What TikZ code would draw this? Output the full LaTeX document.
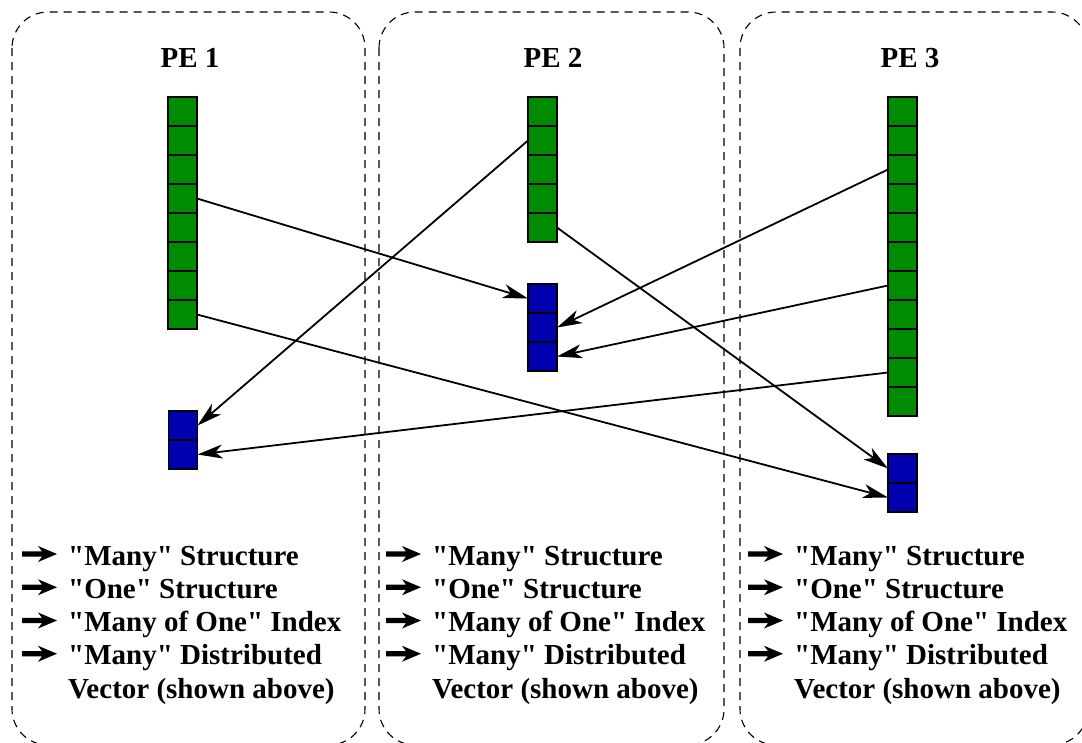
\documentclass[tikz,border=0pt]{standalone}
\usepackage{fontspec}
% a family without the TeX mapping, so that " stays a straight quote
\newfontfamily\labelfont{Liberation Serif}
\usetikzlibrary{arrows.meta}
\definecolor{cellgreen}{RGB}{0,140,0}
\definecolor{cellblue}{RGB}{0,0,175}
\tikzset{
  pebox/.style={draw=black, line width=1.1pt, dash pattern=on 8pt off 6pt, rounded corners=36pt},
  cell/.style={draw=black, line width=1.8pt, minimum width=29pt, minimum height=29pt, inner sep=0pt, outer sep=0pt},
  gcell/.style={cell, fill=cellgreen},
  bcell/.style={cell, fill=cellblue},
  conn/.style={line width=1.8pt, -{Stealth[length=25pt,width=14pt,inset=7pt]}},
  petitle/.style={anchor=base, inner sep=0pt, font=\labelfont\fontsize{29}{33}\selectfont\bfseries},
  legend/.style={anchor=base west, inner sep=0pt, font=\labelfont\fontsize{29}{33}\selectfont\bfseries},
  itemarrow/.pic={\fill (0,-2.6) -- (20,-2.6) -- (16,-8) -- (35,0) -- (16,8) -- (20,2.6) -- (0,2.6) -- cycle;}
}
\begin{document}
\begin{tikzpicture}[x=1pt,y=-1pt]
\useasboundingbox (0,0) rectangle (1082,742);

% processing-element frames
\draw[pebox] (12,12) rectangle (365,745);
\draw[pebox] (379,12) rectangle (724,745);
\draw[pebox] (740,12) rectangle (1088,745);

% titles
\node[petitle] (pe1) at (190,67) {PE 1};
\node[petitle] (pe2) at (553,67) {PE 2};
\node[petitle] (pe3) at (910,67) {PE 3};

% "many" vectors (green) and "one" vectors (blue)
\foreach \i in {1,...,8}  \node[gcell] (g1-\i) at (182.5,{111.5+29*(\i-1)}) {};
\foreach \i in {1,...,5}  \node[gcell] (g2-\i) at (542.5,{111.5+29*(\i-1)}) {};
\foreach \i in {1,...,11} \node[gcell] (g3-\i) at (902.5,{111.5+29*(\i-1)}) {};
\foreach \i in {1,2}      \node[bcell] (b1-\i) at (183,{425.5+29*(\i-1)}) {};
\foreach \i in {1,2,3}    \node[bcell] (b2-\i) at (542.5,{298.5+29*(\i-1)}) {};
\foreach \i in {1,2}      \node[bcell] (b3-\i) at (902.5,{468.5+29*(\i-1)}) {};

% index links
\draw[conn] (g1-4.east) -- (b2-1.west);
\draw[conn] (g1-8.east) -- (b3-2.west);
\draw[conn] (g2-2.west) -- (b1-1.east);
\draw[conn] (g2-5.east) -- (b3-1.west);
\draw[conn] (g3-3.west) -- (b2-2.east);
\draw[conn] (g3-7.west) -- (b2-3.east);
\draw[conn] (g3-10.west) -- (b1-2.east);

% legends
\foreach \k/\tx in {1/68,2/432,3/794}{
  \node[legend] (l\k-1) at (\tx,565)    {"Many" Structure};
  \node[legend] (l\k-2) at (\tx,598.25) {"One" Structure};
  \node[legend] (l\k-3) at (\tx,631.5)  {"Many of One" Index};
  \node[legend] (l\k-4) at (\tx,664.75) {"Many" Distributed};
  \node[legend] (l\k-5) at (\tx,698)    {Vector (shown above)};
  \foreach \j in {1,...,4}
    \pic at ([xshift=-46pt,yshift=11pt]l\k-\j.base west) {itemarrow};
}
\end{tikzpicture}
\end{document}
